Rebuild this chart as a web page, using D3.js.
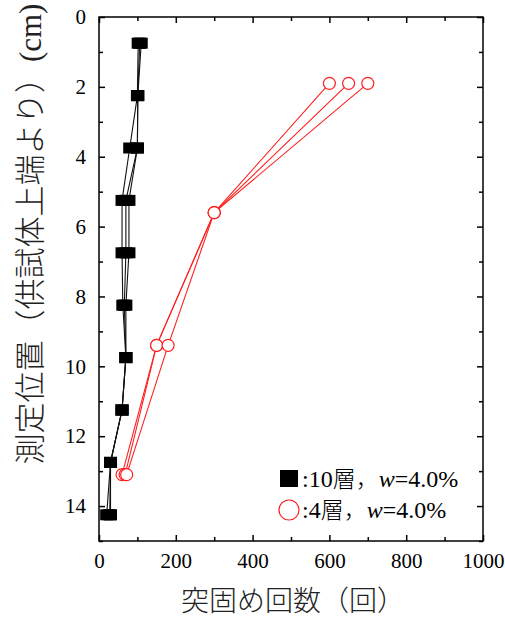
<!DOCTYPE html>
<html>
<head>
<meta charset="utf-8">
<script src="https://cdn.jsdelivr.net/npm/d3@7"></script>
<style>
body { margin: 0; background: #fff; }
svg text { font-family: "Liberation Serif", "DejaVu Serif", serif; }
</style>
</head>
<body>
<script>
// depths (cm) and blow counts
var depth10 = [0.75, 2.25, 3.75, 5.25, 6.75, 8.25, 9.75, 11.25, 12.75, 14.25];
var layer10a = [102, 100, 80, 60, 60, 62, 70, 60, 30, 20];
var layer10b = [110, 101, 100, 70, 70, 66, 70, 60, 30, 28];
var layer10c = [106, 101, 100, 78, 78, 70, 70, 60, 30, 30];

var depth4 = [1.9, 5.6, 9.4, 13.1];
var layer4a = [600, 300, 150, 60];
var layer4b = [650, 300, 150, 68];
var layer4c = [700, 300, 180, 72];

var xTicks = [0, 200, 400, 600, 800, 1000];
var yTicks = [0, 2, 4, 6, 8, 10, 12, 14];

var width = 505, height = 619;
var mLeft = 99, mTop = 17, mRight = 483, mBottom = 541;

var svg = d3.select("body").append("svg")
    .attr("width", width)
    .attr("height", height);

var x = d3.scaleLinear().domain([0, 1000]).range([mLeft, mRight]);
var y = d3.scaleLinear().domain([0, 15]).range([mTop, mBottom]);

var minorX = d3.range(0, 1001, 100).filter(function (v) { return v % 200 != 0; });
var minorY = d3.range(0, 16, 1).filter(function (v) { return v % 2 != 0; });

function styleAxis(g) {
    g.select(".domain").remove();
    g.attr("font-family", null);
    g.selectAll("line").attr("stroke", "#000").attr("stroke-width", 1.5);
    g.selectAll("text").attr("fill", "#000")
        .style("font-family", "'Liberation Serif', serif")
        .style("font-size", "21px");
}

// bottom
svg.append("g").attr("transform", "translate(0," + mBottom + ")")
    .call(d3.axisBottom(x).tickValues(xTicks).tickSize(-6).tickPadding(12).tickFormat(d3.format("d")))
    .call(styleAxis);
svg.append("g").attr("transform", "translate(0," + mBottom + ")")
    .call(d3.axisBottom(x).tickValues(minorX).tickSize(-4).tickFormat(""))
    .call(styleAxis);
// top
svg.append("g").attr("transform", "translate(0," + mTop + ")")
    .call(d3.axisTop(x).tickValues(xTicks).tickSize(-6).tickFormat(""))
    .call(styleAxis);
svg.append("g").attr("transform", "translate(0," + mTop + ")")
    .call(d3.axisTop(x).tickValues(minorX).tickSize(-4).tickFormat(""))
    .call(styleAxis);
// left
svg.append("g").attr("transform", "translate(" + mLeft + ",0)")
    .call(d3.axisLeft(y).tickValues(yTicks).tickSize(-6).tickPadding(13).tickFormat(d3.format("d")))
    .call(styleAxis);
svg.append("g").attr("transform", "translate(" + mLeft + ",0)")
    .call(d3.axisLeft(y).tickValues(minorY).tickSize(-4).tickFormat(""))
    .call(styleAxis);
// right
svg.append("g").attr("transform", "translate(" + mRight + ",0)")
    .call(d3.axisRight(y).tickValues(yTicks).tickSize(-6).tickFormat(""))
    .call(styleAxis);
svg.append("g").attr("transform", "translate(" + mRight + ",0)")
    .call(d3.axisRight(y).tickValues(minorY).tickSize(-4).tickFormat(""))
    .call(styleAxis);

// frame
svg.append("rect")
    .attr("x", mLeft).attr("y", mTop)
    .attr("width", mRight - mLeft).attr("height", mBottom - mTop)
    .attr("fill", "none").attr("stroke", "#000").attr("stroke-width", 1.5);

var line = d3.line()
    .x(function (d) { return x(d.v); })
    .y(function (d) { return y(d.d); });

function pairs(depths, vals) {
    return depths.map(function (d, i) { return {d: d, v: vals[i]}; });
}

var black = [layer10a, layer10b, layer10c].map(function (s) { return pairs(depth10, s); });
var red = [layer4a, layer4b, layer4c].map(function (s) { return pairs(depth4, s); });

svg.append("g").selectAll("path")
    .data(black).enter().append("path")
    .attr("d", line)
    .attr("fill", "none")
    .attr("stroke", "#111")
    .attr("stroke-width", 1.1);

black.forEach(function (s) {
    svg.append("g").selectAll("rect")
        .data(s).enter().append("rect")
        .attr("x", function (d) { return x(d.v) - 6.5; })
        .attr("y", function (d) { return y(d.d) - 5.5; })
        .attr("width", 13)
        .attr("height", 11)
        .attr("fill", "#000");
});

svg.append("g").selectAll("path")
    .data(red).enter().append("path")
    .attr("d", line)
    .attr("fill", "none")
    .attr("stroke", "#ff2020")
    .attr("stroke-width", 1.1);

red.forEach(function (s) {
    svg.append("g").selectAll("circle")
        .data(s).enter().append("circle")
        .attr("cx", function (d) { return x(d.v); })
        .attr("cy", function (d) { return y(d.d); })
        .attr("r", 6)
        .attr("fill", "#fff")
        .attr("stroke", "#ff2020")
        .attr("stroke-width", 1.2);
});

// legend
var leg = svg.append("g");
leg.append("rect").attr("x", 280).attr("y", 470).attr("width", 18).attr("height", 17).attr("fill", "#000");
leg.append("circle").attr("cx", 289).attr("cy", 510).attr("r", 10)
    .attr("fill", "#fff").attr("stroke", "#ff2020").attr("stroke-width", 1.2);

function legendText(yy, layers) {
    var t = leg.append("text").attr("x", 302).attr("y", yy).style("font-size", "24px").attr("fill", "#000");
    t.append("tspan").text(":" + layers);
    t.append("tspan").style("font-family", "'Noto Sans CJK JP'").style("font-size", "23px").style("font-weight", 300).text("層，");
    t.append("tspan").style("font-style", "italic").text("w");
    t.append("tspan").text("=4.0%");
}
legendText(487, "10");
legendText(518, "4");

// axis titles
svg.append("text")
    .attr("x", (mLeft + mRight) / 2 + 2)
    .attr("y", 611)
    .attr("text-anchor", "middle")
    .style("font-family", "'Noto Sans CJK JP'")
    .style("font-size", "28px")
    .style("font-weight", 300)
    .attr("fill", "#222")
    .text("突固め回数（回）");

var yt = svg.append("text")
    .attr("transform", "translate(41," + 234 + ") rotate(-90)")
    .attr("text-anchor", "middle")
    .style("font-family", "'Noto Sans CJK JP'")
    .style("font-size", "31px")
    .style("font-weight", 300)
    .attr("fill", "#222");
yt.append("tspan").text("測定位置（供試体上端より）");
yt.append("tspan").style("font-family", "'Liberation Serif'").text("(cm)");
</script>
</body>
</html>
